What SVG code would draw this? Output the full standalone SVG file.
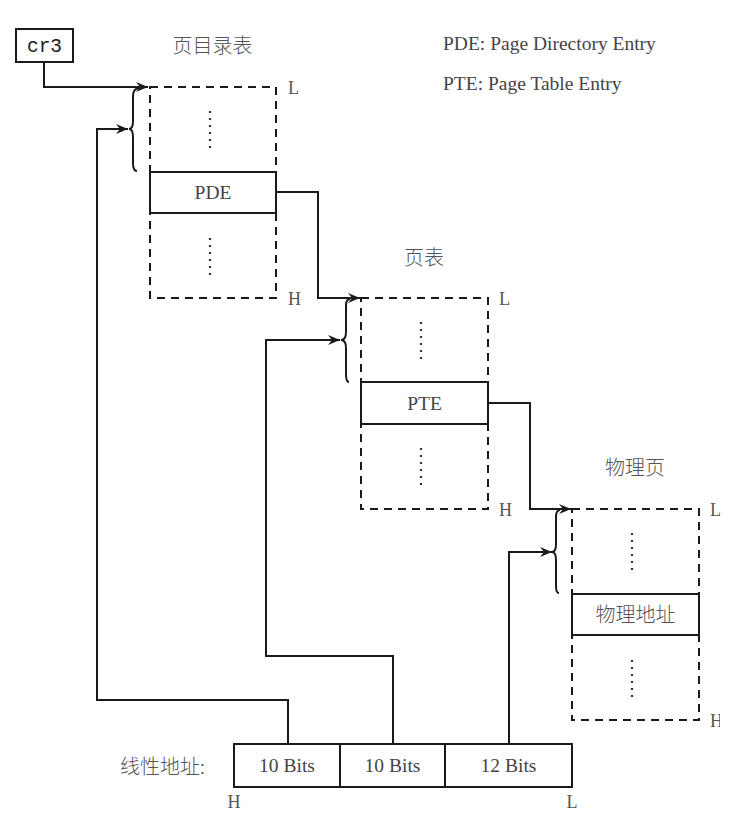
<svg xmlns="http://www.w3.org/2000/svg" width="740" height="815" viewBox="0 0 740 815">
<style>
.ln{fill:none;stroke:#1a1a1a;stroke-width:2}
.dash{fill:none;stroke:#1a1a1a;stroke-width:2;stroke-dasharray:8 6}
.box{fill:#fff;stroke:#1a1a1a;stroke-width:2}
.dots{stroke:#333;stroke-width:2.2;stroke-dasharray:2 5}
.lat{font-family:"Liberation Serif","Times New Roman",serif;font-size:19.5px;fill:#444}
.hl{font-family:"Liberation Serif","Times New Roman",serif;font-size:18px;fill:#555}
.cjk{font-family:"Noto Sans CJK SC","Noto Sans",sans-serif;font-size:20px;font-weight:300;fill:#555}
.mono{font-family:"Liberation Mono","Courier New",monospace;font-size:19.5px;fill:#222}
</style>
<defs>
<marker id="arr" markerUnits="userSpaceOnUse" markerWidth="13" markerHeight="11" refX="12" refY="5" orient="auto">
<path d="M0,0 L12,5 L0,10 L4,5 Z" fill="#1a1a1a"/>
</marker>
<clipPath id="clipR"><rect x="0" y="0" width="720" height="815"/></clipPath>
</defs>

<g id="legend">
<text class="lat" x="443" y="50">PDE: Page Directory Entry</text>
<text class="lat" x="443" y="90">PTE: Page Table Entry</text>
</g>

<g id="cr3">
<rect class="box" x="16" y="29" width="57" height="33"/>
<text class="mono" x="44.5" y="52" text-anchor="middle">cr3</text>
</g>

<g id="page-directory">
<text class="cjk" x="212.5" y="53" text-anchor="middle">页目录表</text>
<rect class="dash" x="150" y="87" width="126" height="211"/>
<rect class="box" x="150" y="172" width="126" height="41"/>
<text class="lat" x="213" y="199" text-anchor="middle">PDE</text>
<line class="dots" x1="210" y1="111" x2="210" y2="149"/>
<line class="dots" x1="210" y1="238" x2="210" y2="276"/>
<path class="ln" d="M140,88 Q133,88 133,96 V121 Q133,129 129,129 Q133,129 133,137 V163 Q133,171 137,171"/>
<text class="hl" x="288" y="94">L</text>
<text class="hl" x="288" y="305">H</text>
</g>

<g id="page-table">
<text class="cjk" x="424" y="265" text-anchor="middle">页表</text>
<rect class="dash" x="361" y="298" width="127" height="211"/>
<rect class="box" x="361" y="382" width="127" height="42"/>
<text class="lat" x="424.5" y="410" text-anchor="middle">PTE</text>
<line class="dots" x1="421" y1="322" x2="421" y2="360"/>
<line class="dots" x1="421" y1="448" x2="421" y2="486"/>
<path class="ln" d="M350,299 Q346,299 346,306 V332 Q346,340 341,340 Q346,340 346,348 V374 Q346,382 349,382"/>
<text class="hl" x="499" y="305">L</text>
<text class="hl" x="499" y="516">H</text>
</g>

<g id="physical-page">
<text class="cjk" x="635" y="475" text-anchor="middle">物理页</text>
<rect class="dash" x="572" y="509" width="127" height="211"/>
<rect class="box" x="572" y="594" width="127" height="41"/>
<text class="cjk" x="635.5" y="622" text-anchor="middle">物理地址</text>
<line class="dots" x1="632" y1="533" x2="632" y2="571"/>
<line class="dots" x1="632" y1="660" x2="632" y2="698"/>
<path class="ln" d="M560,510 Q556,510 556,517 V544 Q556,552 552,552 Q556,552 556,560 V586 Q556,593 559,593"/>
<text class="hl" x="710" y="516">L</text>
<text class="hl" x="710" y="727" clip-path="url(#clipR)">H</text>
</g>

<g id="linear-address">
<text class="cjk" x="120" y="774">线性地址:</text>
<rect class="box" x="234" y="744" width="338" height="43"/>
<line class="ln" x1="340" y1="744" x2="340" y2="787"/>
<line class="ln" x1="445" y1="744" x2="445" y2="787"/>
<text class="lat" x="287" y="772" text-anchor="middle">10 Bits</text>
<text class="lat" x="392.5" y="772" text-anchor="middle">10 Bits</text>
<text class="lat" x="508.5" y="772" text-anchor="middle">12 Bits</text>
<text class="hl" x="234" y="808" text-anchor="middle">H</text>
<text class="hl" x="572" y="808" text-anchor="middle">L</text>
</g>

<g id="connectors">
<path class="ln" d="M44,62 V87 H148" marker-end="url(#arr)"/>
<path class="ln" d="M288,744 V700 H97 V129 H128" marker-end="url(#arr)"/>
<path class="ln" d="M276,192 H318 V298 H360" marker-end="url(#arr)"/>
<path class="ln" d="M393,744 V656 H266 V340 H340" marker-end="url(#arr)"/>
<path class="ln" d="M488,403 H530 V509 H571" marker-end="url(#arr)"/>
<path class="ln" d="M509,744 V552 H552" marker-end="url(#arr)"/>
</g>
</svg>
